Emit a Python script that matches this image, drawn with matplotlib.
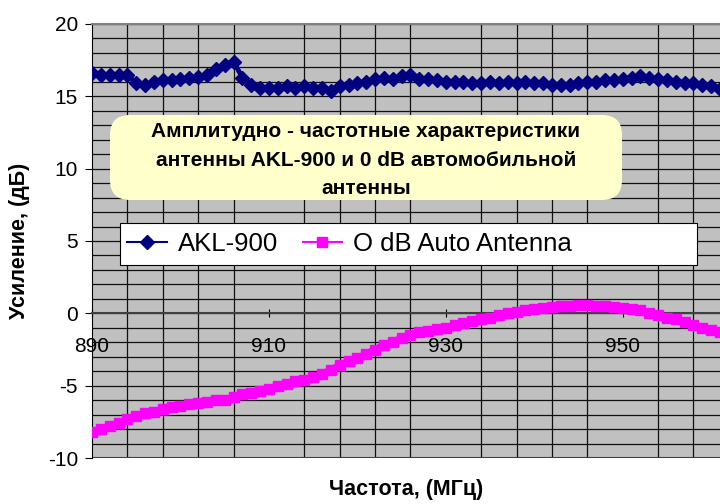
import matplotlib
matplotlib.use("Agg")
import matplotlib.pyplot as plt
import numpy as np
from matplotlib.patches import FancyBboxPatch, Rectangle
from matplotlib.lines import Line2D

plt.rcParams['font.family'] = ['Liberation Sans', 'DejaVu Sans']
plt.rcParams['axes.unicode_minus'] = False

# частота, МГц
freq = list(range(890, 962))
# AKL-900, дБ
akl = [16.6, 16.5, 16.5, 16.5, 16.5, 15.9, 15.8, 16.0, 16.1, 16.1,
       16.2, 16.3, 16.35, 16.5, 16.9, 17.2, 17.4, 16.3, 15.8, 15.6,
       15.6, 15.6, 15.7, 15.6, 15.7, 15.6, 15.6, 15.4, 15.7, 15.8,
       15.9, 16.0, 16.2, 16.3, 16.2, 16.4, 16.5, 16.2, 16.2, 16.1,
       16.0, 16.0, 16.0, 15.9, 15.9, 16.0, 15.9, 16.0, 15.9, 16.0,
       15.9, 15.9, 15.8, 15.8, 15.8, 15.9, 16.0, 16.0, 16.1, 16.1,
       16.2, 16.3, 16.4, 16.3, 16.2, 16.1, 16.0, 15.9, 15.9, 15.8,
       15.7, 15.5]
# 0 dB Auto Antenna, дБ
auto = [-8.2, -8.0, -7.8, -7.6, -7.3, -7.1, -6.9, -6.8, -6.6, -6.5,
        -6.4, -6.3, -6.2, -6.1, -6.0, -6.0, -5.8, -5.6, -5.5, -5.4,
        -5.2, -5.0, -4.9, -4.7, -4.6, -4.4, -4.2, -3.9, -3.6, -3.3,
        -3.1, -2.8, -2.5, -2.2, -2.0, -1.7, -1.5, -1.3, -1.2, -1.1,
        -1.0, -0.8, -0.7, -0.5, -0.4, -0.3, -0.1, 0.0, 0.1, 0.2,
        0.3, 0.4, 0.45, 0.5, 0.5, 0.55, 0.55, 0.5, 0.5, 0.45,
        0.4, 0.3, 0.2, 0.0, -0.1, -0.3, -0.4, -0.6, -0.8, -1.0,
        -1.15, -1.3]

xticks = [890, 910, 930, 950]
yticks = [-10, -5, 0, 5, 10, 15, 20]

fig = plt.figure(figsize=(7.2, 5.04), dpi=100)
ax = fig.add_axes([92/720, 46/504, 628/720, 434/504])
ax.set_facecolor('#C0C0C0')

ax.plot(freq, akl, color='#000080', lw=3.5, marker='D', ms=7, zorder=3)
ax.plot(freq, auto, color='#FF00FF', lw=5, marker='s', ms=7, zorder=3)

ax.set_xlim(890, 961)
ax.set_ylim(-10, 20)

ax.set_xticks(xticks)
ax.set_yticks(yticks)
ax.set_xticks(np.arange(890, 962, 4), minor=True)
ax.set_yticks(np.arange(-10, 21, 1), minor=True)
ax.grid(which='minor', color='#101010', lw=0.9)
ax.grid(which='major', axis='y', color='#101010', lw=0.9)
ax.set_axisbelow(True)

ax.tick_params(which='minor', length=0)
ax.tick_params(axis='y', which='major', direction='out', length=5,
               labelsize=15, pad=5)
ax.tick_params(axis='x', which='major', direction='inout', length=6,
               labelsize=15, pad=14)

ax.spines['bottom'].set_position(('data', 0))
ax.spines['bottom'].set_color('#404040')
ax.spines['bottom'].set_linewidth(1.5)
ax.spines['left'].set_color('black')
ax.spines['top'].set_color('#808080')
ax.spines['top'].set_linewidth(1.5)
ax.spines['right'].set_visible(False)
ax.axhline(-10, color='#404040', lw=1.5, zorder=2)

# title box
tr = fig.dpi_scale_trans
box = FancyBboxPatch((1.10, 3.04), 5.12, 0.85,
                     boxstyle='round,pad=0,rounding_size=0.2',
                     transform=tr, facecolor='#FFFFCC', edgecolor='none')
fig.patches.append(box)
fig.text(366/720, 1 - 160/504,
         'Амплитудно - частотные характеристики\n'
         'антенны AKL-900 и 0 dB автомобильной\nантенны',
         ha='center', va='center', fontsize=15, fontweight='bold',
         linespacing=1.62)

# legend
frame = Rectangle((1.20, 2.39), 5.77, 0.42, transform=tr,
                  facecolor='white', edgecolor='black', lw=0.8)
fig.patches.append(frame)
handles = [Line2D([], [], color='#000080', lw=1.5, marker='D', ms=7),
           Line2D([], [], color='#FF00FF', lw=1.5, marker='s', ms=7)]
fig.legend(handles, ['AKL-900', 'O dB Auto Antenna'], ncol=2,
           loc='center left', bbox_to_anchor=(1.27, 2.60),
           bbox_transform=tr, frameon=False, fontsize=18.5,
           borderpad=0, borderaxespad=0, handlelength=1.55,
           handletextpad=0.43, columnspacing=0.95)

fig.text(20/720, 1 - 241/504, 'Усиление, (дБ)', rotation=90,
         ha='center', va='center', fontsize=15.5, fontweight='bold')
fig.text(406/720, 1 - 489/504, 'Частота, (МГц)',
         ha='center', va='center', fontsize=15.5, fontweight='bold')

fig.savefig('out.png', dpi=100)
